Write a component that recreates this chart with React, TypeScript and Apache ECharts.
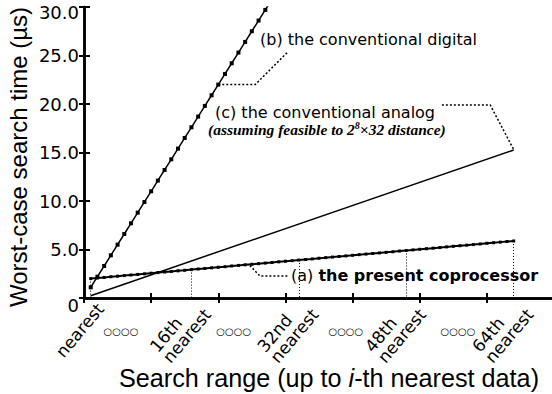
import React, { useEffect, useRef } from 'react';
import * as echarts from 'echarts';

// i-th nearest (x) values
const searchRange = [
  1, 2, 3, 4, 5, 6, 7, 8, 9, 10, 11, 12, 13, 14, 15, 16,
  17, 18, 19, 20, 21, 22, 23, 24, 25, 26, 27, 28, 29, 30, 31, 32,
  33, 34, 35, 36, 37, 38, 39, 40, 41, 42, 43, 44, 45, 46, 47, 48,
  49, 50, 51, 52, 53, 54, 55, 56, 57, 58, 59, 60, 61, 62, 63, 64,
];
// (a) the present coprocessor (µs)
const presentTimes = [
  2.0, 2.06, 2.12, 2.19, 2.25, 2.31, 2.37, 2.43, 2.49, 2.56, 2.62, 2.68, 2.74, 2.8, 2.86, 2.93,
  2.99, 3.05, 3.11, 3.17, 3.23, 3.3, 3.36, 3.42, 3.48, 3.54, 3.6, 3.66, 3.73, 3.79, 3.85, 3.91,
  3.97, 4.03, 4.1, 4.16, 4.22, 4.28, 4.34, 4.4, 4.47, 4.53, 4.59, 4.65, 4.71, 4.77, 4.84, 4.9,
  4.96, 5.02, 5.08, 5.14, 5.2, 5.27, 5.33, 5.39, 5.45, 5.51, 5.57, 5.64, 5.7, 5.76, 5.82, 5.88,
];
// (b) the conventional digital (µs)
const digitalRange = [
  1, 2, 3, 4, 5, 6, 7, 8, 9, 10, 11, 12, 13, 14, 15, 16, 17, 18, 19, 20, 21, 22, 23, 24, 25, 26, 27, 28,
];
const digitalTimes = [
  1.1, 2.2, 3.3, 4.4, 5.5, 6.6, 7.7, 8.8, 9.9, 11.0, 12.1, 13.2, 14.3, 15.4,
  16.5, 17.6, 18.7, 19.8, 20.9, 22.0, 23.1, 24.2, 25.3, 26.4, 27.5, 28.6, 29.7, 30.8,
];
// (c) the conventional analog (µs)
const analogRange = [1, 64];
const analogTimes = [0.24, 15.26];

// axis
const xMin = 0;
const xMax = 70;
const xStep = 10;
const yMin = 0;
const yMax = 30;
const yStep = 5;

const rangeLabelValues = [1, 16, 32, 48, 64];
const rangeLabelTexts = ['nearest', '16th\nnearest', '32nd\nnearest', '48th\nnearest', '64th\nnearest'];
const ellipsisValues = [5.5, 22.3, 39, 55.7];
const ellipsisText = '○○○○';

// annotation leaders (data coordinates)
const leaderDigital = [[20, 22], [25.5, 22], [30.4, 25.4]];
const leaderAnalog = [[53.3, 19.9], [60.5, 19.9], [64, 15.3]];
const leaderPresent = [[24.7, 3.35], [26.2, 2.27], [30.4, 2.27]];

const SANS = 'DejaVu Sans';
const ARIAL = 'Liberation Sans';

export default function App() {
  const ref = useRef<HTMLDivElement>(null);

  useEffect(() => {
    if (!ref.current) return;
    const chart = echarts.init(ref.current, undefined, { renderer: 'svg' });

    const presentData = searchRange.map((x, i) => [x, presentTimes[i]]);
    const digitalData = digitalRange.map((x, i) => [x, digitalTimes[i]]);
    const analogData = analogRange.map((x, i) => [x, analogTimes[i]]);

    const dropLines = rangeLabelValues.map((v) => {
      const idx = searchRange.indexOf(v);
      return [{ coord: [v, presentTimes[idx]] }, { coord: [v, 0] }];
    });

    const baseX = {
      type: 'value',
      min: xMin,
      max: xMax,
      interval: xStep,
      splitLine: { show: false },
    };

    const leaderStyle = { color: '#000', width: 1.5, type: [2, 2] };

    chart.setOption({
      animation: false,
      textStyle: { fontFamily: SANS, color: '#000' },
      grid: { left: 84, top: 7, right: -2, bottom: 96, outerBoundsMode: 'none', containLabel: false },
      xAxis: [
        {
          ...baseX,
          position: 'bottom',
          axisLine: { show: true, lineStyle: { color: '#000', width: 2.5 } },
          axisTick: { show: true, inside: true, length: 5, lineStyle: { color: '#000', width: 2 } },
          axisLabel: { show: false },
        },
        {
          ...baseX,
          position: 'top',
          axisLine: { show: true, lineStyle: { color: '#000', width: 2.5 } },
          axisTick: { show: true, inside: true, length: 5, lineStyle: { color: '#000', width: 2 } },
          axisLabel: { show: false },
        },
        {
          ...baseX,
          position: 'bottom',
          axisLine: { show: false },
          axisTick: { show: false },
          axisLabel: {
            show: true,
            customValues: ellipsisValues,
            margin: 28,
            fontSize: 10,
            fontFamily: SANS,
            color: '#000',
            formatter: () => ellipsisText,
          },
        },
      ],
      yAxis: [
        {
          type: 'value',
          min: yMin,
          max: yMax,
          interval: yStep,
          position: 'left',
          splitLine: { show: false },
          axisLine: { show: true, lineStyle: { color: '#000', width: 2.5 } },
          axisTick: { show: true, inside: true, length: 6, lineStyle: { color: '#000', width: 2 } },
          axisLabel: {
            show: true,
            margin: 5,
            fontSize: 18,
            fontFamily: SANS,
            color: '#000',
            formatter: (v: number) => {
              if (v === yMin) return '{lo|0}';
              if (v === yMax) return `{hi|${v.toFixed(1)}}`;
              return v.toFixed(1);
            },
            rich: {
              lo: { fontSize: 18, fontFamily: SANS, color: '#000', padding: [14, 0, 0, 0] },
              hi: { fontSize: 18, fontFamily: SANS, color: '#000', padding: [10, 0, 0, 0] },
            },
          },
        },
        {
          type: 'value',
          min: yMin,
          max: yMax,
          interval: yStep,
          position: 'right',
          splitLine: { show: false },
          axisLine: { show: true, lineStyle: { color: '#000', width: 2.5 } },
          axisTick: { show: true, inside: true, length: 5, lineStyle: { color: '#000', width: 2 } },
          axisLabel: { show: false },
        },
      ],
      series: [
        {
          name: '(c) the conventional analog',
          type: 'line',
          data: analogData,
          symbol: 'none',
          lineStyle: { color: '#000', width: 1.5 },
          clip: true,
          silent: true,
        },
        {
          name: '(b) the conventional digital',
          type: 'line',
          data: digitalData,
          symbol: 'rect',
          symbolSize: 4,
          itemStyle: { color: '#000' },
          lineStyle: { color: '#000', width: 1.5 },
          clip: true,
          silent: true,
        },
        {
          name: '(a) the present coprocessor',
          type: 'line',
          data: presentData,
          symbol: 'rect',
          symbolSize: 3,
          itemStyle: { color: '#000' },
          lineStyle: { color: '#000', width: 2 },
          clip: true,
          silent: true,
          markLine: {
            silent: true,
            symbol: ['none', 'none'],
            label: { show: false },
            lineStyle: { color: '#000', width: 1, type: [1, 2] },
            data: dropLines,
          },
        },
        { type: 'line', data: leaderDigital, symbol: 'none', lineStyle: leaderStyle, silent: true },
        { type: 'line', data: leaderAnalog, symbol: 'none', lineStyle: leaderStyle, silent: true },
        { type: 'line', data: leaderPresent, symbol: 'none', lineStyle: leaderStyle, silent: true },
      ],
    });

    const rot = (50 * Math.PI) / 180;
    const rangeLabels = rangeLabelValues.map((v, k) => {
      const p = chart.convertToPixel({ xAxisIndex: 0, yAxisIndex: 0 }, [v, 0]) as number[];
      return {
        type: 'text',
        x: p[0] - 31.6,
        y: p[1] + 57,
        rotation: rot,
        silent: true,
        style: {
          text: rangeLabelTexts[k],
          fontFamily: SANS,
          fontSize: 17,
          lineHeight: 16.7,
          fill: '#000',
          align: 'left',
          verticalAlign: 'middle',
        },
      };
    });

    chart.setOption({
      graphic: [
        {
          type: 'text',
          x: 18,
          y: 157,
          rotation: Math.PI / 2,
          silent: true,
          style: {
            text: 'Worst-case search time (µs)',
            fontFamily: ARIAL,
            fontSize: 24,
            fill: '#000',
            align: 'center',
            verticalAlign: 'middle',
          },
        },
        {
          type: 'text',
          x: 329,
          y: 378,
          silent: true,
          style: {
            text: '{n|Search range (up to }{i|i}{n|-th nearest data)}',
            align: 'center',
            verticalAlign: 'middle',
            rich: {
              n: { fontFamily: ARIAL, fontSize: 25.2, fill: '#000', color: '#000' },
              i: { fontFamily: ARIAL, fontSize: 25.2, fontStyle: 'italic', fill: '#000', color: '#000' },
            },
          },
        },
        {
          type: 'text',
          x: 260,
          y: 39.5,
          silent: true,
          style: {
            text: '(b) the conventional digital',
            fontFamily: SANS,
            fontSize: 16,
            fill: '#000',
            align: 'left',
            verticalAlign: 'middle',
          },
        },
        {
          type: 'text',
          x: 215,
          y: 112,
          silent: true,
          style: {
            text: '(c) the conventional analog',
            fontFamily: SANS,
            fontSize: 16,
            fill: '#000',
            align: 'left',
            verticalAlign: 'middle',
          },
        },
        {
          type: 'text',
          x: 208,
          y: 129,
          silent: true,
          style: {
            text: '{i|(assuming feasible to 2}{s|8}{i|×32 distance)}',
            align: 'left',
            verticalAlign: 'middle',
            rich: {
              i: { fontFamily: 'Liberation Serif', fontSize: 15.5, fontStyle: 'italic', fontWeight: 'bold', fill: '#000', color: '#000' },
              s: { fontFamily: 'Liberation Serif', fontSize: 10, fontStyle: 'italic', fontWeight: 'bold', fill: '#000', color: '#000', padding: [0, 0, 7, 0] },
            },
          },
        },
        {
          type: 'text',
          x: 291,
          y: 275,
          silent: true,
          style: {
            text: '{n|(a) }{b|the present coprocessor}',
            align: 'left',
            verticalAlign: 'middle',
            rich: {
              n: { fontFamily: SANS, fontSize: 16, fill: '#000', color: '#000' },
              b: { fontFamily: SANS, fontSize: 16, fontWeight: 'bold', fill: '#000', color: '#000' },
            },
          },
        },
        ...rangeLabels,
      ],
    });

    return () => {
      chart.dispose();
    };
  }, []);

  return <div ref={ref} style={{ width: 552, height: 394, position: 'absolute', left: 0, top: 0 }} />;
}
